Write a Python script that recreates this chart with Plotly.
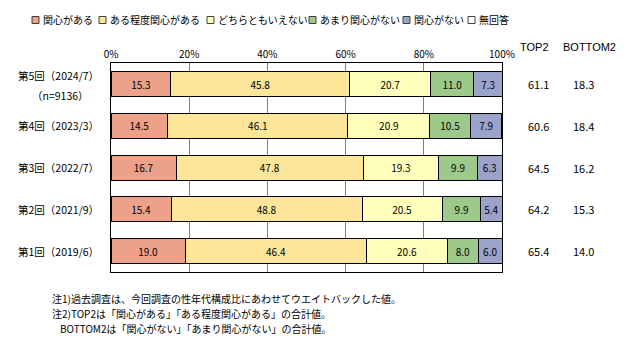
import plotly.graph_objects as go

# ---------------- data ----------------
categories = ["第5回", "第4回", "第3回", "第2回", "第1回"]
category_labels = ["第5回（2024/7）", "第4回（2023/3）", "第3回（2022/7）",
                   "第2回（2021/9）", "第1回（2019/6）"]
sample_note = "（n=9136）"
series_names = ["関心がある", "ある程度関心がある", "どちらともいえない",
                "あまり関心がない", "関心がない", "無回答"]
v_kanshin_aru = [15.3, 14.5, 16.7, 15.4, 19.0]
v_aru_teido = [45.8, 46.1, 47.8, 48.8, 46.4]
v_dochira = [20.7, 20.9, 19.3, 20.5, 20.6]
v_amari = [11.0, 10.5, 9.9, 9.9, 8.0]
v_kanshin_nai = [7.3, 7.9, 6.3, 5.4, 6.0]
v_mukaitou = [0.0, 0.0, 0.0, 0.0, 0.0]
top2 = [61.1, 60.6, 64.5, 64.2, 65.4]
bottom2 = [18.3, 18.4, 16.2, 15.3, 14.0]
x_tick_vals = [0, 20, 40, 60, 80, 100]
x_tick_text = ["0%", "20%", "40%", "60%", "80%", "100%"]
notes = [
    "注1)過去調査は、今回調査の性年代構成比にあわせてウエイトバックした値。",
    "注2)TOP2は「関心がある」「ある程度関心がある」の合計値。",
    "BOTTOM2は「関心がない」「あまり関心がない」の合計値。",
]

# ---------------- styles ----------------
colors = ["#EDA08A", "#FDE699", "#FFFFBB", "#9DCA8A", "#9BA3CB", "#FFFFFF"]
FONT = "Noto Sans CJK JP"
W, H = 636, 351
ML, MR, MT, MB = 111, 134, 63, 79
PW = W - ML - MR
PH = H - MT - MB


def px_x(p):
    return (p - ML) / PW


def px_y(p):
    return (H - MB - p) / PH


fig = go.Figure()
all_vals = [v_kanshin_aru, v_aru_teido, v_dochira, v_amari, v_kanshin_nai, v_mukaitou]
for name, vals, col in zip(series_names, all_vals, colors):
    show_text = name != "無回答"
    fig.add_trace(go.Bar(
        y=categories, x=vals, name=name, orientation="h",
        marker=dict(color=col, line=dict(color="black", width=1)),
        text=[f"{v:.1f}" for v in vals] if show_text else None,
        textposition="inside", insidetextanchor="middle", textangle=0,
        textfont=dict(family=FONT, size=10, color="black"),
        showlegend=False,
    ))

annotations = []
# category labels
for i, (cat, lab) in enumerate(zip(categories, category_labels)):
    if i == 0:
        annotations.append(dict(xref="paper", yref="y", x=px_x(101), y=cat, text=lab,
                                showarrow=False, xanchor="right", yanchor="bottom", yshift=-1,
                                font=dict(family=FONT, size=10.5, color="black")))
        annotations.append(dict(xref="paper", yref="y", x=px_x(60), y=cat, text=sample_note,
                                showarrow=False, xanchor="center", yanchor="top", yshift=-2,
                                font=dict(family=FONT, size=10.5, color="black")))
    else:
        annotations.append(dict(xref="paper", yref="y", x=px_x(101), y=cat, text=lab,
                                showarrow=False, xanchor="right", yanchor="middle",
                                font=dict(family=FONT, size=10.5, color="black")))
# TOP2 / BOTTOM2 columns
annotations.append(dict(xref="paper", yref="paper", x=px_x(534), y=px_y(47), text="TOP2",
                        showarrow=False, xanchor="center", yanchor="middle",
                        font=dict(family="Liberation Sans", size=11, color="black")))
annotations.append(dict(xref="paper", yref="paper", x=px_x(589), y=px_y(47), text="BOTTOM2",
                        showarrow=False, xanchor="center", yanchor="middle",
                        font=dict(family="Liberation Sans", size=11, color="black")))
for cat, t, b in zip(categories, top2, bottom2):
    annotations.append(dict(xref="paper", yref="y", x=px_x(538), y=cat, text=f"{t:.1f}",
                            showarrow=False, xanchor="center", yanchor="middle",
                            font=dict(family=FONT, size=11, color="black")))
    annotations.append(dict(xref="paper", yref="y", x=px_x(583), y=cat, text=f"{b:.1f}",
                            showarrow=False, xanchor="center", yanchor="middle",
                            font=dict(family=FONT, size=11, color="black")))
# notes
note_pos = [(50, 298), (50, 313), (58, 328)]
for txt, (nx, ny) in zip(notes, note_pos):
    annotations.append(dict(xref="paper", yref="paper", x=px_x(nx), y=px_y(ny), text=txt,
                            showarrow=False, xanchor="left", yanchor="middle",
                            font=dict(family=FONT, size=10, color="black")))

# custom one-row legend
shapes = []
legend_x = [32, 99, 207, 309, 403, 468]
legend_y = 20
for name, col, lx in zip(series_names, colors, legend_x):
    shapes.append(dict(type="rect", xref="paper", yref="paper",
                       x0=px_x(lx), x1=px_x(lx + 7), y0=px_y(legend_y + 3.5), y1=px_y(legend_y - 3.5),
                       fillcolor=col, line=dict(color="#404040", width=1)))
    annotations.append(dict(xref="paper", yref="paper", x=px_x(lx + 9), y=px_y(legend_y),
                            text=name, showarrow=False, xanchor="left", yanchor="middle",
                            font=dict(family=FONT, size=10, color="black")))

fig.update_layout(
    width=W, height=H,
    margin=dict(l=ML, r=MR, t=MT, b=MB, pad=0),
    barmode="stack", bargap=0.4,
    plot_bgcolor="white", paper_bgcolor="white",
    font=dict(family=FONT, size=10, color="black"),
    annotations=annotations, shapes=shapes,
    uniformtext=dict(minsize=10, mode="show"),
    xaxis=dict(range=[0, 100], side="top", tickvals=x_tick_vals, ticktext=x_tick_text,
               showgrid=True, gridcolor="#808080", gridwidth=1,
               showline=True, linecolor="black", linewidth=1, mirror=True,
               ticks="", zeroline=False, fixedrange=True,
               tickfont=dict(family=FONT, size=10, color="black")),
    yaxis=dict(autorange="reversed", showticklabels=False, ticks="",
               showline=True, linecolor="black", linewidth=1, mirror=True,
               showgrid=False, fixedrange=True),
)

fig.write_html("out.html")
